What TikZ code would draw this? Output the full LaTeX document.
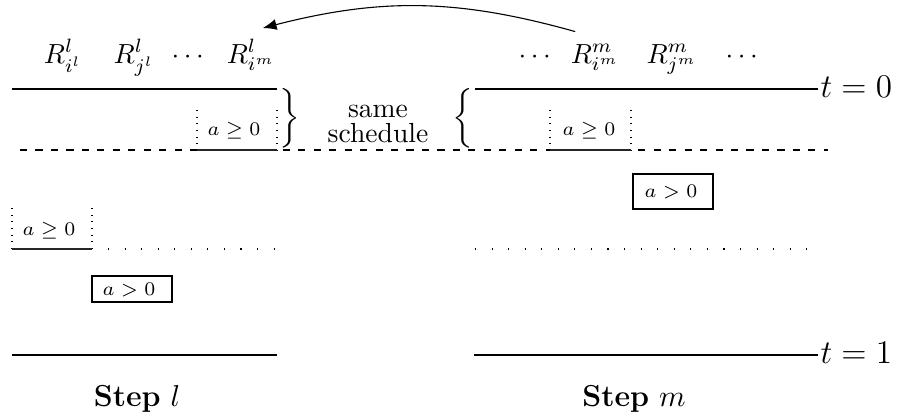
\documentclass[tikz,border=0pt]{standalone}
\usepackage{amsmath,amssymb}
\usetikzlibrary{arrows.meta}
\begin{document}
\begin{tikzpicture}[x=0.3623pt,y=-0.3623pt,
  every node/.style={inner sep=0pt},
  rlabel/.style={anchor=base},
  cond/.style={anchor=west,font=\scriptsize},
  side/.style={dotted},
  floor/.style={line width=0.8pt,black!85},
  rowdots/.style={dash pattern=on 0.4pt off 5.6pt},
  phase/.style={dash pattern=on 2.6pt off 3pt},
  tlabel/.style={anchor=base west,font=\fontsize{12}{14}\selectfont},
  caption/.style={anchor=base,font=\fontsize{11}{13}\selectfont}]
\useasboundingbox (0,0) rectangle (899,417);

% resource labels of step l
\node[rlabel] (Ril) at (63,63)  {$R^l_{i^l}$};
\node[rlabel] (Rjl) at (134,63) {$R^l_{j^l}$};
\node[rlabel] (dl)  at (190,63) {$\cdots$};
\node[rlabel] (Rml) at (251,63) {$R^l_{i^m}$};

% resource labels of step m
\node[rlabel] (dm1) at (537,63) {$\cdots$};
\node[rlabel] (Rim) at (595,63) {$R^m_{i^m}$};
\node[rlabel] (Rjm) at (672,63) {$R^m_{j^m}$};
\node[rlabel] (dm2) at (744,63) {$\cdots$};

% shared resource
\draw[-{Latex[length=5pt,width=4pt]}] ([shift={(5,-12)}]Rim.north west)
  to[bend right=15] ([shift={(-13,-11)}]Rml.north east);

% time axes
\coordinate (la0) at (12,89);  \coordinate (lb0) at (277,89);
\coordinate (ra0) at (475,89); \coordinate (rb0) at (818,89);
\coordinate (la1) at (12,355); \coordinate (lb1) at (277,355);
\coordinate (ra1) at (474,355);\coordinate (rb1) at (818,355);
\draw (la0) -- (lb0);
\draw (ra0) -- (rb0);
\draw (la1) -- (lb1);
\draw (ra1) -- (rb1);
\node[tlabel] (t0) at ([shift={(2,8.5)}]rb0) {$t=0$};
\node[tlabel] (t1) at ([shift={(2,8.5)}]rb1) {$t=1$};

% end of the common part of the schedule
\coordinate (ph0) at (20,150); \coordinate (ph1) at (828,150);
\draw[phase] (ph0) -- (ph1);

% step l, first activity
\draw[side] (197,110) -- (197,150);
\draw[side] (277,110) -- (277,150);
\draw[floor] (197,150) -- (277,150);
\node[cond] (cl1) at (207,131) {$a\geq 0$};

% step m, first activity
\draw[side] (550,110) -- (550,150);
\draw[side] (631,110) -- (631,150);
\draw[floor] (550,150) -- (631,150);
\node[cond] (cm1) at (562,131) {$a\geq 0$};

% braces and shared label
\node (brl) at (290,118) {\scalebox{1}[0.9]{$\bigg\}$}};
\node (brr) at (463,118) {\scalebox{1}[0.9]{$\bigg\{$}};
\node[anchor=base] (same)  at (378,117) {same};
\node[anchor=base] (sched) at (378,142) {schedule};

% step m, later activity
\draw (633,174) rectangle (713,209);
\node[cond] (cm2) at (644,192) {$a>0$};
\draw[rowdots] (475,249) -- (822,249);

% step l, later activities
\draw[side] (12,208) -- (12,249);
\draw[side] (92,208) -- (92,249);
\draw[floor] (12,249) -- (92,249);
\node[cond] (cl2) at (22,231) {$a\geq 0$};
\draw[rowdots] (108,249) -- (280,249);
\draw (92,276) rectangle (172,302);
\node[cond] (cl3) at (102,290) {$a>0$};

% step captions
\node[caption] (stl) at (137,406) {\textbf{Step} $l$};
\node[caption] (stm) at (634,406) {\textbf{Step} $m$};
\end{tikzpicture}
\end{document}
